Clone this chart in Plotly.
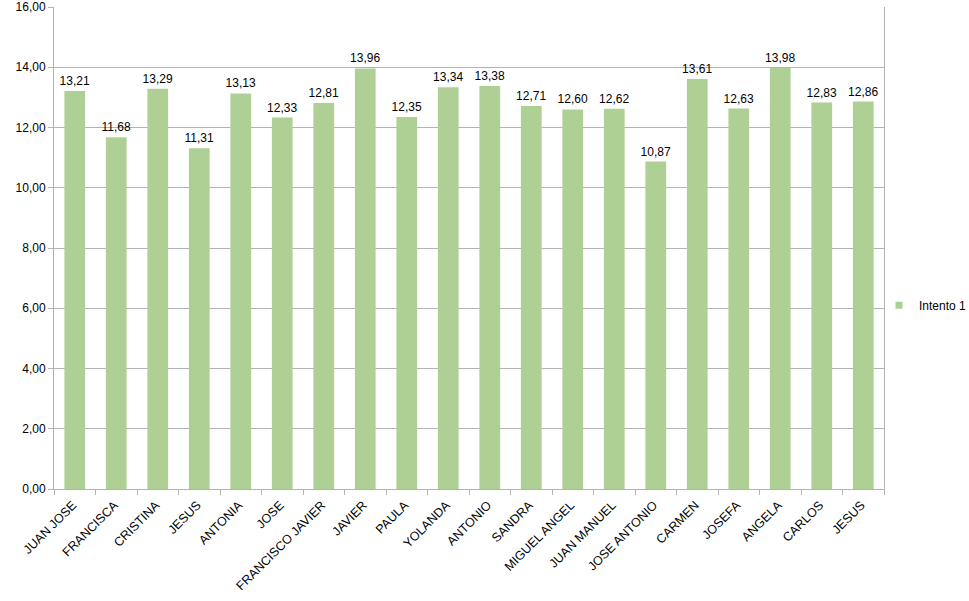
import plotly.graph_objects as go

names = ["JUAN JOSE", "FRANCISCA", "CRISTINA", "JESUS", "ANTONIA", "JOSE",
         "FRANCISCO JAVIER", "JAVIER", "PAULA", "YOLANDA", "ANTONIO", "SANDRA",
         "MIGUEL ANGEL", "JUAN MANUEL", "JOSE ANTONIO", "CARMEN", "JOSEFA",
         "ANGELA", "CARLOS", "JESUS"]
intento1 = [13.21, 11.68, 13.29, 11.31, 13.13, 12.33, 12.81, 13.96, 12.35, 13.34,
            13.38, 12.71, 12.60, 12.62, 10.87, 13.61, 12.63, 13.98, 12.83, 12.86]
y_ticks = [0, 2, 4, 6, 8, 10, 12, 14, 16]

idx = list(range(len(names)))
bounds = [i - 0.5 for i in range(len(names) + 1)]

GREEN = "#afd095"
GRID = "#b3b3b3"

fig = go.Figure()
fig.add_trace(go.Bar(
    x=idx, y=intento1, name="Intento 1",
    marker=dict(color=GREEN, line=dict(width=0)),
    width=0.5,
    text=intento1, texttemplate="%{y:.2f}", textposition="outside",
    constraintext="none",
    textfont=dict(family="Liberation Sans", size=12, color="#000000"),
    cliponaxis=False, showlegend=False,
))
# legend-only entry with a small square symbol like the original
fig.add_trace(go.Scatter(
    x=[None], y=[None], mode="markers", name="Intento 1",
    marker=dict(symbol="square", size=7, color=GREEN, line=dict(width=0)),
    showlegend=True, hoverinfo="skip",
))

fig.update_layout(
    width=969, height=601,
    margin=dict(l=54, r=85, t=7, b=112, autoexpand=False),
    paper_bgcolor="white", plot_bgcolor="white",
    separators=",.",
    font=dict(family="Liberation Sans", size=12, color="#000000"),
    legend=dict(xref="container", x=879 / 969, xanchor="left",
                yref="container", y=0.492, yanchor="middle",
                font=dict(family="Liberation Sans", size=12, color="#000000"),
                itemwidth=30, bgcolor="rgba(0,0,0,0)"),
    xaxis=dict(
        range=[-0.5, len(names) - 0.5], automargin=False,
        tickmode="array", tickvals=idx, ticktext=names, tickangle=-45,
        ticks="", showgrid=False, zeroline=False,
        showline=True, linecolor=GRID, linewidth=1,
        ticklabelstandoff=3, ticklabelshift=-2,
        tickfont=dict(family="Liberation Sans", size=12.5, color="#000000"),
        minor=dict(tickmode="array", tickvals=bounds, ticks="outside",
                   ticklen=5, tickcolor=GRID, tickwidth=1, showgrid=False),
    ),
    yaxis=dict(
        range=[0, 16], automargin=False,
        tickmode="array", tickvals=y_ticks, tickformat=".2f",
        showgrid=True, gridcolor=GRID, gridwidth=1, zeroline=False,
        showline=True, linecolor=GRID, linewidth=1, mirror=True,
        ticks="outside", ticklen=5, tickcolor=GRID,
        tickfont=dict(family="Liberation Sans", size=12, color="#000000"),
    ),
    bargap=0.5,
)

fig.write_html("out.html")
